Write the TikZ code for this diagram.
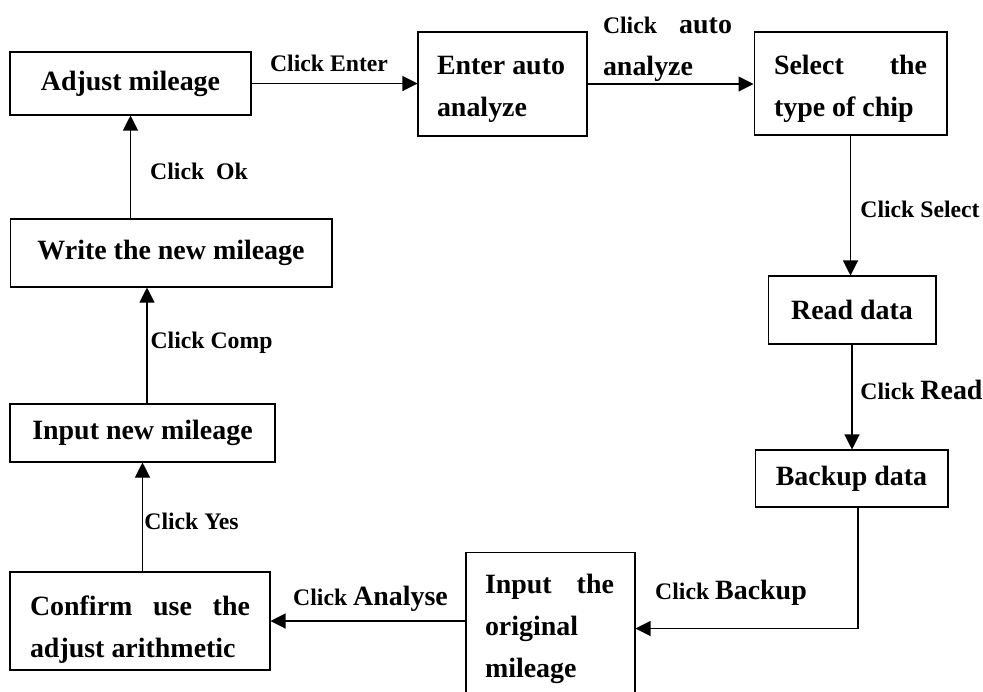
\documentclass[tikz,border=0pt]{standalone}
\usepackage{fontspec}
\setmainfont{Liberation Serif}
\usetikzlibrary{arrows.meta}
\newcommand{\kw}[1]{{\fontsize{15.9}{23.9}\selectfont #1}}
\tikzset{
  box/.style={draw, line width=.6pt, inner xsep=.4cm, inner ysep=0pt, font=\fontsize{15.9}{23.9}\selectfont\bfseries},
  lbl/.style={inner sep=0pt, font=\fontsize{13.5}{23.9}\selectfont\bfseries},
  arr/.style={line width=.6pt, -{Triangle[length=.3cm, width=.3cm]}}
}
\begin{document}
\begin{tikzpicture}[x=.02cm, y=-.02cm]
\useasboundingbox (0,0) rectangle (983,691);
\clip (0,0) rectangle (983,691);
\node[box, minimum width=4.82cm, minimum height=1.26cm] (adjust) at (130.5,83.5) {Adjust mileage};
\node[box, inner xsep=.38cm, text width=2.62cm, minimum height=2.08cm, align=flush left] (enter) at (502.5,84) {\strut Enter auto\\analyze};
\node[box, text width=3.06cm, minimum height=2.06cm, align=flush left] (chip) at (850.5,83.5) {\strut\makebox[3.06cm]{Select\hfill the}\\type of chip};
\node[box, minimum width=3.36cm, minimum height=1.36cm] (read) at (852,310) {Read data};
\node[box, minimum width=3.86cm, minimum height=1.14cm] (backup) at (851.5,478.5) {Backup data};
\node[box, inner xsep=.38cm, text width=2.62cm, minimum height=3.06cm, align=flush left] (orig) at (550.5,628.5) {\makebox[2.58cm]{Input\hfill the}\\original\\mileage};
\node[box, text width=4.4cm, minimum height=1.96cm, align=flush left] (confirm) at (140,621) {\rule{0pt}{.75cm}\makebox[4.4cm]{Confirm\hfill use\hfill the}\\adjust arithmetic};
\node[box, minimum width=5.3cm, minimum height=1.16cm] (inew) at (142.5,433) {Input new mileage};
\node[box, minimum width=6.44cm, minimum height=1.36cm] (write) at (171,253) {Write the new mileage};

\draw[arr] (adjust.east) -- (adjust.east -| enter.west);
\draw[arr] (enter.east) -- (enter.east -| chip.west);
\draw[arr] (chip.south) -- (chip.south |- read.north);
\draw[arr] (read.south) -- (read.south |- backup.north);
\draw[arr] ([xshift=.13cm]backup.south) |- (orig.east);
\draw[arr] (confirm.east -| orig.west) -- (confirm.east);
\draw[arr] (inew.south |- confirm.north) -- (inew.south);
\draw[arr] ([xshift=.09cm]inew.north) -- ([xshift=.09cm]inew.north |- write.south);
\draw[arr] (adjust.south |- write.north) -- (adjust.south);

\node[lbl] (l1) at (329,63) {Click Enter};
\node[lbl, text width=2.58cm, align=flush left] (l2) at (667.5,49) {\makebox[2.58cm]{Click\hfill\kw{auto}}\\\kw{analyze}};
\node[lbl] (l3) at (920,209) {Click Select};
\node[lbl] (l4) at (921.5,390) {Click \kw{Read}};
\node[lbl] (l5) at (731,593) {Click \kw{Backup}};
\node[lbl] (l6) at (370.5,599) {Click \kw{Analyse}};
\node[lbl] (l7) at (191.5,521) {Click Yes};
\node[lbl] (l8) at (211.5,343) {Click Comp};
\node[lbl] (l9) at (199,171) {Click~~Ok};
\end{tikzpicture}
\end{document}
